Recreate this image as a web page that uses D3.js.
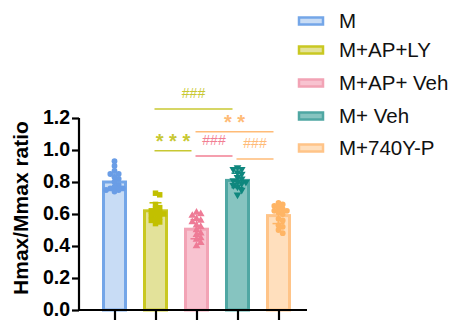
<!DOCTYPE html>
<html><head><meta charset="utf-8">
<script src="https://cdn.jsdelivr.net/npm/d3@7"></script>
<style>body{margin:0;background:#fff}svg{display:block}</style>
</head><body>
<svg id="c" width="449" height="320"></svg>
<script>
const categories = ["M", "M+AP+LY", "M+AP+ Veh", "M+ Veh", "M+740Y-P"];
const means = [0.80, 0.62, 0.505, 0.81, 0.59];
const sds = [0.05, 0.05, 0.06, 0.045, 0.05];
const pointsM      = [0.93, 0.90, 0.87, 0.85, 0.85, 0.83, 0.82, 0.80, 0.78, 0.77, 0.76, 0.75, 0.75, 0.74, 0.76];
const pointsAPLY   = [0.73, 0.72, 0.66, 0.64, 0.63, 0.62, 0.61, 0.60, 0.60, 0.59, 0.58, 0.57, 0.56, 0.55, 0.54];
const pointsAPVeh  = [0.61, 0.60, 0.59, 0.57, 0.56, 0.55, 0.53, 0.52, 0.50, 0.48, 0.47, 0.45, 0.44, 0.42, 0.40];
const pointsVeh    = [0.89, 0.88, 0.88, 0.86, 0.85, 0.83, 0.82, 0.81, 0.80, 0.80, 0.79, 0.78, 0.77, 0.75, 0.72];
const points740    = [0.67, 0.66, 0.65, 0.64, 0.63, 0.62, 0.62, 0.61, 0.60, 0.57, 0.56, 0.53, 0.52, 0.50, 0.48];
const yTicks = [0.0, 0.2, 0.4, 0.6, 0.8, 1.0, 1.2];
// comparisons
const compFrom  = [1, 2, 1, 2, 3];
const compTo    = [3, 4, 2, 3, 4];
const compLabel = ["###", "* *", "* * *", "###", "###"];
const compY     = [1.256, 1.114, 0.996, 0.9625, 0.944];
const compColor = ["#c8c832", "#ffbb77", "#c8c832", "#f27f93", "#ffbb77"];

const strokeC = ["#74a6e8", "#c9c822", "#f2a3b5", "#4fa7a3", "#ffc488"];
const fillC   = ["#c8dcf5", "#e3e29a", "#f8c3d0", "#86c4c0", "#ffdfbd"];
const ptC     = ["#6a9de6", "#c2c000", "#ee7b96", "#0f877e", "#ffb565"];
const allPoints = [pointsM, pointsAPLY, pointsAPVeh, pointsVeh, points740];
const shapes = [d3.symbolCircle, d3.symbolSquare, d3.symbolTriangle, d3.symbolTriangle, d3.symbolCircle];

const svg = d3.select("#c");
const y = d3.scaleLinear().domain([0, 1.2]).range([310, 118]);
const x = d3.scalePoint().domain(categories).range([114.5, 278.5]);
const bw = 25;
const font = "'Liberation Sans', Arial, sans-serif";

// bars
svg.selectAll("rect.bar").data(categories).join("rect")
  .attr("x", (d) => x(d) - bw/2 + 1.5)
  .attr("y", (d, i) => y(means[i]))
  .attr("width", bw - 3)
  .attr("height", (d, i) => y(0) - y(means[i]))
  .attr("fill", (d, i) => fillC[i])
  .attr("stroke", (d, i) => strokeC[i])
  .attr("stroke-width", 3);

// error bars
categories.forEach((c, i) => {
  const g = svg.append("g").attr("stroke", ptC[i]).attr("stroke-width", 1.5);
  g.append("line").attr("x1", x(c)).attr("x2", x(c)).attr("y1", y(means[i] - sds[i])).attr("y2", y(means[i] + sds[i]));
  [means[i] - sds[i], means[i] + sds[i]].forEach(v => {
    g.append("line").attr("x1", x(c) - 6).attr("x2", x(c) + 6).attr("y1", y(v)).attr("y2", y(v));
  });
});

// points (simple beeswarm dodge)
categories.forEach((c, i) => {
  const pts = allPoints[i].slice().sort((a, b) => b - a);
  const placed = [];
  const r = 4.2;
  pts.forEach(v => {
    const py = y(v);
    let offs = [0];
    for (let k = 1; k < 6; k++) { offs.push(k * r); offs.push(-k * r); }
    let px = x(c);
    for (const o of offs) {
      const cx = x(c) + o;
      if (placed.every(p => Math.hypot(p[0] - cx, p[1] - py) >= r)) { px = cx; break; }
    }
    placed.push([px, py]);
  });
  const sym = d3.symbol().type(shapes[i]).size(i === 1 ? 30 : 26);
  svg.append("g").selectAll("path").data(placed).join("path")
    .attr("d", sym)
    .attr("transform", d => `translate(${d[0]},${d[1]})` + (i === 3 ? " rotate(180)" : ""))
    .attr("fill", ptC[i]);
});

// axes
const yAxis = d3.axisLeft(y).tickValues(yTicks).tickFormat(d3.format(".1f")).tickSize(7).tickPadding(2);
const gy = svg.append("g").attr("transform", "translate(79,0)").call(yAxis);
gy.select(".domain").attr("stroke", "#000").attr("stroke-width", 2.2).attr("d", "M0,310V118");
gy.selectAll(".tick line").attr("stroke", "#000").attr("stroke-width", 2.2);
gy.selectAll(".tick text").attr("font-family", font).attr("font-weight", "bold").attr("font-size", 19.5).attr("fill", "#000").attr("dy", "0.3em");

const xAxis = d3.axisBottom(x).tickSize(10).tickFormat("");
const gx = svg.append("g").attr("transform", "translate(0,310)").call(xAxis);
gx.select(".domain").attr("stroke", "#000").attr("stroke-width", 2.2).attr("d", "M78,0H307");
gx.selectAll(".tick line").attr("stroke", "#000").attr("stroke-width", 2.2);

svg.append("text")
  .attr("transform", "translate(28,208) rotate(-90)")
  .attr("text-anchor", "middle")
  .attr("font-family", font).attr("font-weight", "bold").attr("font-size", 21)
  .text("Hmax/Mmax ratio");

// significance
compFrom.forEach((f, k) => {
  const x1 = x(categories[f]) - 1, x2 = x(categories[compTo[k]]) - 5;
  const yy = y(compY[k]);
  svg.append("line").attr("x1", x1).attr("x2", x2).attr("y1", yy).attr("y2", yy)
    .attr("stroke", compColor[k]).attr("stroke-width", 1.5);
  const isStar = compLabel[k].includes("*");
  svg.append("text")
    .attr("x", (x1 + x2) / 2).attr("y", isStar ? yy - 3 : yy - 11)
    .attr("text-anchor", "middle")
    .attr("font-family", font).attr("font-size", isStar ? 20 : 14)
    .attr("font-weight", isStar ? "bold" : "normal")
    .attr("fill", compColor[k])
    .text(compLabel[k]);
});

// legend
const legY = [21, 50, 83, 116, 148];
categories.forEach((c, i) => {
  svg.append("rect").attr("x", 299).attr("y", legY[i] - 3.5).attr("width", 24).attr("height", 7)
    .attr("fill", fillC[i]).attr("stroke", strokeC[i]).attr("stroke-width", 2.5);
  svg.append("text").attr("x", 339).attr("y", legY[i]).attr("dy", "0.36em")
    .attr("font-family", font).attr("font-size", 20.5).attr("fill", "#111").text(c);
});
</script>
</body></html>
